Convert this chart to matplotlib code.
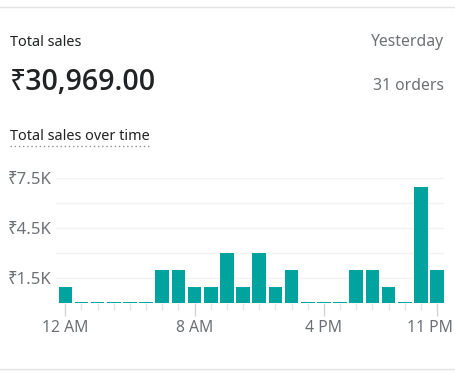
import numpy as np
import matplotlib.pyplot as plt
from matplotlib.lines import Line2D
from matplotlib.transforms import ScaledTranslation

plt.rcParams['font.family'] = ['Noto Sans', 'DejaVu Sans']

# hourly sales for yesterday (rupees)
hours = list(range(24))
sales = [999, 0, 0, 0, 0, 0, 1998, 1998, 999, 999, 2997, 999,
         2997, 999, 1998, 0, 0, 0, 1998, 1998, 999, 0, 6993, 1998]
tick_hours = [0, 8, 16, 23]
tick_labels = ['12 AM', '8 AM', '4 PM', '11 PM']
ytick_vals = [1500, 4500, 7500]
ytick_labels = ['₹1.5K', '₹4.5K', '₹7.5K']
grid_minor = [3000, 6000]

W, H = 455, 373
fig = plt.figure(figsize=(W / 100, H / 100), dpi=100)
fig.patch.set_facecolor('white')


def fx(x):
    return x / W


def fy(y):
    return 1 - y / H


dark = '#202223'
grey = '#6d7175'

# card borders
fig.add_artist(Line2D([0, 1], [fy(7), fy(7)], color='#e1e3e5', lw=1))
fig.add_artist(Line2D([0, 1], [fy(369), fy(369)], color='#e1e3e5', lw=1))

# header
fig.text(fx(10), fy(42), 'Total sales', fontsize=10.4, color=dark, va='center')
fig.text(fx(444), fy(42), 'Yesterday', fontsize=11.3, color=grey,
         va='center', ha='right')
fig.text(fx(10), fy(82), '₹30,969.00', fontsize=20.5, color=dark,
         va='center', fontweight='semibold',
         family=['Open Sans', 'Noto Sans', 'DejaVu Sans'])
fig.text(fx(444), fy(86), '31 orders', fontsize=11.3, color=grey,
         va='center', ha='right')
fig.text(fx(10), fy(137), 'Total sales over time', fontsize=10.4,
         color=dark, va='center')
fig.add_artist(Line2D([fx(10), fx(149)], [fy(146), fy(146)],
                      color='#8c9196', lw=1, ls=(0, (1, 2))))

# chart
ax = fig.add_axes([fx(56), fy(303.3), fx(444) - fx(56), fy(178.3) - fy(303.3)])
stub = 100  # zero hours still show a thin sliver
heights = np.maximum(np.array(sales), stub)
ax.bar(hours, heights, width=0.84, color='#00a39e', zorder=3)

ax.set_xlim(-0.575, 23.43)
ax.set_ylim(0, 7500)
for s in ax.spines.values():
    s.set_visible(False)

ax.set_yticks(ytick_vals)
ax.set_yticklabels(ytick_labels)
ax.set_yticks(grid_minor, minor=True)
ax.grid(axis='y', which='both', color='#f1f2f3', lw=1, zorder=0)
ax.tick_params(axis='y', which='both', length=0, pad=3, labelsize=12,
               labelcolor=grey)

ax.set_xticks(tick_hours)
ax.set_xticklabels(tick_labels)
ax.set_xticks([h for h in hours if h not in tick_hours], minor=True)
ax.tick_params(axis='x', which='major', length=9, width=1, color='#d2d5d8',
               pad=3, labelsize=11.3, labelcolor=grey)
ax.tick_params(axis='x', which='minor', length=5, width=1, color='#e4e5e7')

# last label is nudged left so it stays inside the card
last = ax.get_xticklabels()[-1]
last.set_transform(last.get_transform()
                   + ScaledTranslation(-0.07, 0, fig.dpi_scale_trans))

fig.savefig('out.png', dpi=100)
